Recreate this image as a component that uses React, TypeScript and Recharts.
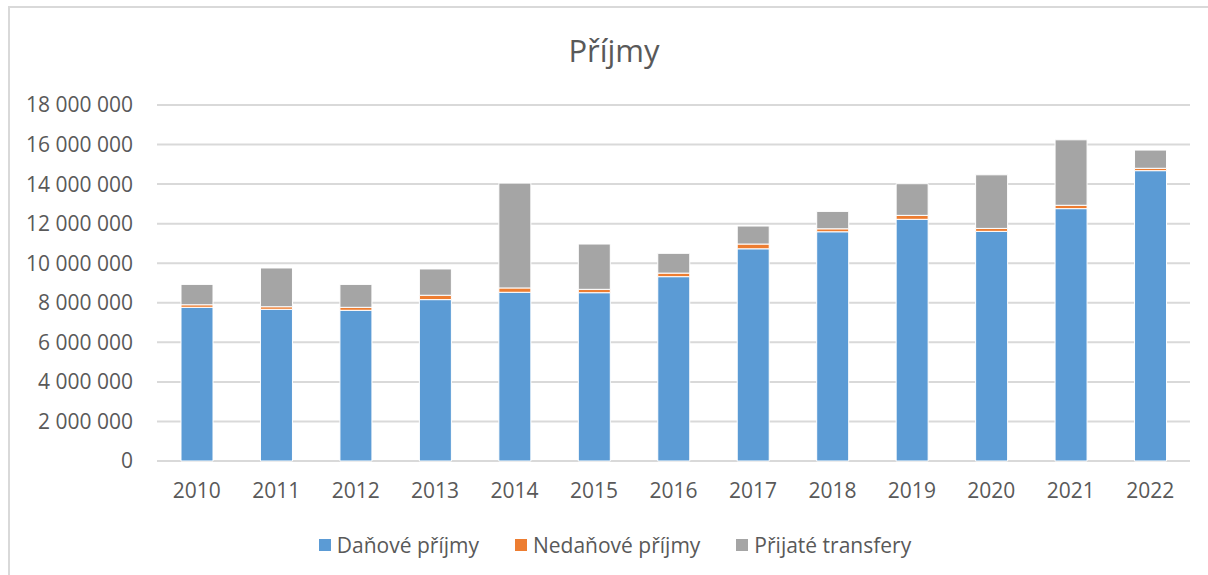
import { Bar, BarChart, CartesianGrid, Legend, XAxis, YAxis } from "recharts";

const years = ["2010", "2011", "2012", "2013", "2014", "2015", "2016", "2017", "2018", "2019", "2020", "2021", "2022"];
const danove = [7770000, 7670000, 7620000, 8160000, 8530000, 8510000, 9320000, 10730000, 11590000, 12220000, 11610000, 12760000, 14680000];
const nedanove = [130000, 130000, 150000, 220000, 220000, 170000, 180000, 240000, 150000, 200000, 150000, 170000, 120000];
const transfery = [1030000, 1960000, 1160000, 1330000, 5300000, 2290000, 1000000, 910000, 880000, 1600000, 2710000, 3310000, 920000];
const yTicks = [0, 2000000, 4000000, 6000000, 8000000, 10000000, 12000000, 14000000, 16000000, 18000000];

const series = [
  { key: "danove", name: "Daňové příjmy", color: "#5b9bd5" },
  { key: "nedanove", name: "Nedaňové příjmy", color: "#ed7d31" },
  { key: "transfery", name: "Přijaté transfery", color: "#a5a5a5" },
];

const data = years.map((year, i) => ({
  year,
  danove: danove[i],
  nedanove: nedanove[i],
  transfery: transfery[i],
}));

const FONT = "'Open Sans', sans-serif";
const TEXT = "#595959";

const fmt = (v: number) => String(v).replace(/\B(?=(\d{3})+(?!\d))/g, "\u00a0");

function LegendBox() {
  return (
    <div style={{ display: "flex", justifyContent: "center", paddingLeft: 30, fontFamily: FONT, fontSize: 21, color: TEXT, lineHeight: "30px" }}>
      {series.map((s) => (
        <div key={s.key} style={{ display: "flex", alignItems: "center", margin: "0 18px" }}>
          <span style={{ width: 12, height: 12, background: s.color, marginRight: 6, display: "inline-block" }} />
          {s.name}
        </div>
      ))}
    </div>
  );
}

export default function App() {
  return (
    <div
      style={{
        position: "fixed",
        left: 8,
        top: 6,
        width: 1200,
        height: 569,
        borderTop: "2px solid #d9d9d9",
        borderLeft: "2px solid #d9d9d9",
        background: "#fff",
        overflow: "hidden",
      }}
    >
      <div
        style={{
          position: "absolute",
          left: 504,
          top: 22,
          width: 200,
          textAlign: "center",
          fontFamily: FONT,
          fontSize: 31,
          lineHeight: "40px",
          color: TEXT,
        }}
      >
        Příjmy
      </div>
      <BarChart
        width={1198}
        height={567}
        data={data}
        barSize={32}
        margin={{ top: 97, right: 18, bottom: 15, left: 0 }}
      >
        <CartesianGrid vertical={false} stroke="#d9d9d9" strokeWidth={2} />
        <XAxis
          dataKey="year"
          axisLine={false}
          tickLine={false}
          tickSize={0}
          tickMargin={22}
          height={69}
          tick={{ fontSize: 21, fill: TEXT, fontFamily: FONT }}
        />
        <YAxis
          width={147}
          domain={[0, 18000000]}
          ticks={yTicks}
          axisLine={false}
          tickLine={false}
          tickSize={0}
          tickMargin={24}
          tickFormatter={fmt}
          tick={{ fontSize: 21, fill: TEXT, fontFamily: FONT }}
        />
        <Legend verticalAlign="bottom" height={30} content={() => <LegendBox />} />
        {series.map((s) => (
          <Bar
            key={s.key}
            dataKey={s.key}
            name={s.name}
            stackId="a"
            fill={s.color}
            stroke="#ffffff"
            strokeWidth={1}
            isAnimationActive={false}
          />
        ))}
      </BarChart>
    </div>
  );
}
